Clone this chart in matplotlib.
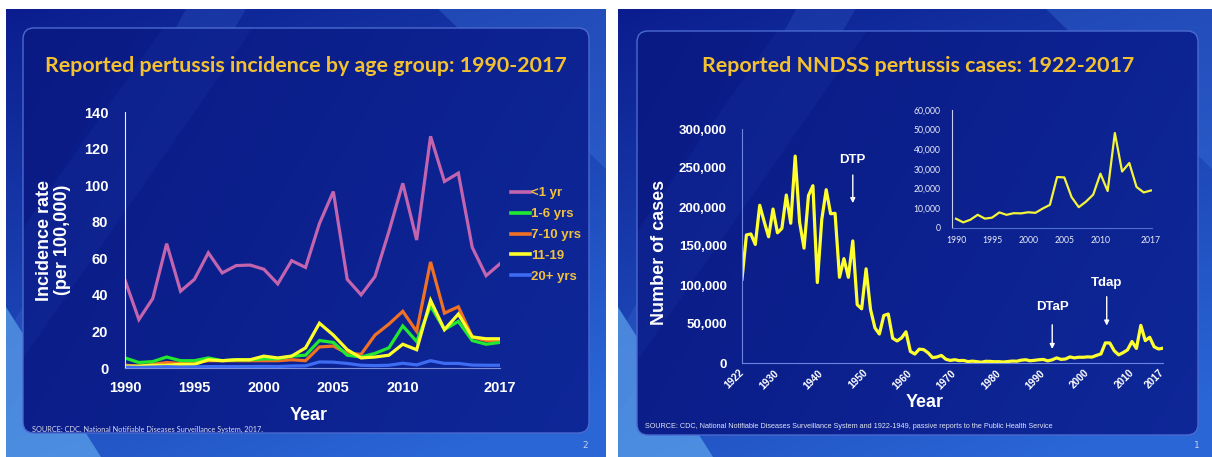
import numpy as np
import matplotlib.pyplot as plt
from matplotlib.patches import FancyBboxPatch, Polygon
from matplotlib.lines import Line2D

# ---- data: incidence by age group (per 100,000), 1990-2017 ----
years_age = list(range(1990, 2018))
inc_lt1 = [48, 26.5, 38, 68, 42, 48.5, 63, 52, 56, 56.3, 54, 46, 58.7, 55,
           79, 96.5, 48.5, 40, 50, 74.6, 101, 70, 126.7, 102, 106.6, 66, 50.5, 57]
inc_1_6 = [5.5, 3, 3.5, 6, 4, 4, 5.5, 4, 4.5, 4.5, 5, 5, 6.5, 7,
           15, 14, 7, 6, 8, 11, 23, 14.5, 34, 21, 25.5, 15, 13, 14]
inc_7_10 = [1.5, 1, 2, 3, 2.5, 3, 4, 4, 4, 4, 4, 4, 4.5, 4,
            11.5, 12, 8, 7.5, 18, 24, 31, 20, 58, 30, 33.5, 17, 15, 15]
inc_11_19 = [1, 1, 1.5, 1.5, 2, 2, 4.5, 4, 4.5, 4.5, 6.5, 5.5, 6.5, 11,
             24.5, 18, 10, 5.5, 6, 7, 13, 10, 37, 21, 29.5, 17, 16, 16]
inc_20plus = [0.5, 0.3, 0.5, 0.7, 0.5, 0.6, 0.8, 0.8, 0.8, 0.8, 0.9, 0.8, 1.1, 1.2,
              3.3, 3.2, 2.5, 1.5, 1.3, 1.5, 2.6, 1.7, 4, 2.5, 2.5, 1.6, 1.5, 1.5]
age_labels = ['<1 yr', '1-6 yrs', '7-10 yrs', '11-19', '20+ yrs']
age_colors = ['#c264ae', '#22e830', '#f07024', '#ffff2a', '#3d6cf2']
age_ticks = [1990, 1995, 2000, 2005, 2010, 2017]

# ---- data: reported cases 1922-2017 ----
years_all = list(range(1922, 2018))
cases_all = [107473, 164191, 165418, 152003, 202210, 181411, 161799, 197371, 166914, 172559,
             215343, 179135, 265269, 180518, 147237, 214652, 227319, 103188, 183866, 222202,
             191383, 191890, 109873, 133792, 109860, 156517, 74715, 69479, 120718, 68687,
             45030, 37129, 60886, 62786, 31732, 28295, 32148, 40005, 14809, 11468,
             17749, 17135, 13005, 6799, 7717, 9718, 4810, 3285, 4249, 3036,
             3287, 1759, 2402, 1738, 1010, 2177, 2063, 1623, 1730, 1248,
             1895, 2463, 2276, 3589, 4195, 2823, 3450, 4157, 4570, 2719,
             4083, 6586, 4617, 5137, 7796, 6564, 7405, 7298, 7867, 7580,
             9771, 11647, 25827, 25616, 15632, 10454, 13278, 16858, 27550, 18719,
             48277, 28639, 32971, 20762, 17972, 18975]
main_ticks = [1922, 1930, 1940, 1950, 1960, 1970, 1980, 1990, 2000, 2010, 2017]
inset_ticks = [1990, 1995, 2000, 2005, 2010, 2017]
vaccines = ['DTP', 'DTaP', 'Tdap']
vaccine_years = [1947, 1992, 2004.3]

W, H = 1212, 457
GOLD = '#f3c130'

fig = plt.figure(figsize=(W / 100, H / 100), dpi=100)
fig.patch.set_facecolor('white')

# background axes in pixel coordinates
bg = fig.add_axes([0, 0, 1, 1])
bg.axis('off')


def gradient(c0, c1, wx, wy, n=200):
    X, Y = np.meshgrid(np.linspace(0, 1, n), np.linspace(0, 1, n))
    t = np.clip(wx * X + wy * Y, 0, 1)[..., None]
    c0 = np.array(plt.matplotlib.colors.to_rgb(c0))
    c1 = np.array(plt.matplotlib.colors.to_rgb(c1))
    return c0 + (c1 - c0) * t


def slide(x0, x1, y0, y1, panel):
    bg.imshow(gradient('#0b1d8e', '#2a66d6', 0.35, 0.75), extent=(x0, x1, y1, y0),
              origin='upper', aspect='auto', zorder=0)
    w = x1 - x0
    # light streaks
    bg.add_patch(Polygon([(x0, y1 - 150), (x0, y1), (x0 + 95, y1)], closed=True,
                         fc='#5aa0ea', alpha=0.75, lw=0, zorder=1))
    bg.add_patch(Polygon([(x0 + 0.30 * w, y0), (x0 + 0.40 * w, y0), (x0, y1 - 40), (x0, y1 - 120)],
                         closed=True, fc='#4a80e0', alpha=0.18, lw=0, zorder=1))
    bg.add_patch(Polygon([(x0 + 0.72 * w, y0), (x1, y0), (x1, y0 + 160)], closed=True,
                         fc='#3c78e0', alpha=0.35, lw=0, zorder=1))
    px0, py0, px1, py1 = panel
    box = FancyBboxPatch((px0, py0), px1 - px0, py1 - py0,
                         boxstyle='round,pad=0,rounding_size=11',
                         fc='none', ec='#4a6ad0', lw=1.0, zorder=3)
    bg.add_patch(box)
    im = bg.imshow(gradient('#0a1a84', '#0f2a9c', 0.6, 0.25), extent=(px0, px1, py1, py0),
                   origin='upper', aspect='auto', zorder=2)
    im.set_clip_path(box)
    st = Polygon([(px0 + 140, py0), (px0 + 230, py0), (px0, py0 + 330), (px0, py0 + 200)],
                 closed=True, fc='#3060d0', alpha=0.10, lw=0, zorder=2)
    bg.add_patch(st)
    st.set_clip_path(box)


slide(6, 606, 9, 457, (23, 28, 589, 433))
slide(618, 1212, 9, 457, (637, 31, 1198, 435))
bg.set_xlim(0, W)
bg.set_ylim(H, 0)

# titles, sources, page numbers
title_font = dict(family='Lato', weight='bold', color=GOLD, size=15.4, ha='center', va='center')
bg.text(306, 66, 'Reported pertussis incidence by age group: 1990-2017', **title_font)
bg.text(918, 66, 'Reported NNDSS pertussis cases: 1922-2017', **title_font)
bg.text(32, 429, 'SOURCE: CDC. National Notifiable Diseases Surveillance System, 2017.',
        color='#d8dcf0', size=5.3, family='Lato', va='center')
bg.text(645, 426, 'SOURCE: CDC, National Notifiable Diseases Surveillance System and 1922-1949, '
        'passive reports to the Public Health Service', color='#e0e4f4', size=5.2,
        family='Liberation Sans', va='center')
bg.text(585, 446, '2', color='#c8d0ea', size=6.5, ha='center', va='center')
bg.text(1197, 446, '1', color='#c8d0ea', size=6.5, ha='center', va='center')


def px_axes(left, right, top, bottom):
    return fig.add_axes([left / W, 1 - bottom / H, (right - left) / W, (bottom - top) / H])


def style(ax, spine_col, lw=0.8):
    ax.set_facecolor('none')
    for s in ['top', 'right']:
        ax.spines[s].set_visible(False)
    for s in ['left', 'bottom']:
        ax.spines[s].set_color(spine_col)
        ax.spines[s].set_linewidth(lw)
    ax.tick_params(length=0)


bold = dict(family='Liberation Sans', weight='bold', color='white')

# ---- left chart ----
ax1 = px_axes(125, 500, 112, 368)
style(ax1, '#8090d8')
ax1.spines['left'].set_color('#e8ecff')
series = [inc_lt1, inc_1_6, inc_7_10, inc_11_19, inc_20plus]
order = [0, 2, 1, 3, 4]
for i in order:
    ax1.plot(years_age, series[i], color=age_colors[i], lw=2.3, solid_joinstyle='miter',
             label=age_labels[i])
ax1.set_xlim(1990, 2017)
ax1.set_ylim(0, 140)
ax1.set_yticks(range(0, 141, 20))
ax1.set_xticks(age_ticks)
ax1.tick_params(axis='y', pad=12)
ax1.tick_params(axis='x', pad=9)
for lab in ax1.get_xticklabels() + ax1.get_yticklabels():
    lab.set(**bold, size=10.5)
ax1.text(-0.19, 0.5, 'Incidence rate\n(per 100,000)', transform=ax1.transAxes, rotation=90,
         ha='center', va='center', size=13, linespacing=1.05, **bold)
ax1.text(0.49, -0.184, 'Year', transform=ax1.transAxes, ha='center', va='center', size=13, **bold)
handles = [Line2D([], [], color=c, lw=2.6) for c in age_colors]
leg = ax1.legend(handles, age_labels, loc='upper left', bbox_to_anchor=(511 / W, 1 - 187 / H),
                 bbox_transform=fig.transFigure, frameon=False, handlelength=1.45,
                 handletextpad=0.1, labelspacing=0.66, borderpad=0, borderaxespad=0,
                 prop=dict(family='Liberation Sans', weight='bold', size=9.5))
for t in leg.get_texts():
    t.set_color('#f0c040')

# ---- right main chart ----
ax2 = px_axes(742, 1163, 129, 363)
style(ax2, '#6a86e0')
ax2.plot(years_all, cases_all, color='#ffff30', lw=2.3, solid_joinstyle='round')
ax2.set_xlim(1922, 2017)
ax2.set_ylim(0, 300000)
ax2.set_yticks(range(0, 300001, 50000))
ax2.set_yticklabels([f'{v:,}' for v in range(0, 300001, 50000)])
ax2.set_xticks(main_ticks)
ax2.tick_params(axis='y', pad=11)
ax2.tick_params(axis='x', pad=6)
for lab in ax2.get_yticklabels():
    lab.set(**bold, size=9.5)
for lab in ax2.get_xticklabels():
    lab.set(**bold, size=7.4, rotation=45, ha='right', va='center', rotation_mode='anchor')
ax2.text(-0.197, 0.472, 'Number of cases', transform=ax2.transAxes, rotation=90,
         ha='center', va='center', size=13, **bold)
ax2.text(0.434, -0.17, 'Year', transform=ax2.transAxes, ha='center', va='center', size=13, **bold)

arrow_y = [(260000, 241000, 205000), (72000, 49000, 18000), (102000, 85000, 48000)]
for name, yr, (ty, a0, a1) in zip(vaccines, vaccine_years, arrow_y):
    ax2.annotate('', xy=(yr, a1), xytext=(yr, a0),
                 arrowprops=dict(arrowstyle='-|>', color='white', lw=1.0,
                                 mutation_scale=7, shrinkA=0, shrinkB=0))
    ax2.text(yr, ty, name, ha='center', va='center', size=9.5, **bold)

# ---- inset chart ----
ax3 = px_axes(951.7, 1152.4, 110, 227.7)
style(ax3, '#c8d0f0', lw=0.8)
ax3.spines['bottom'].set_color('#5070d0')
ax3.plot(years_all[68:], cases_all[68:], color='#f4f43a', lw=1.6)
ax3.set_xlim(1989.4, 2017.2)
ax3.set_ylim(0, 60000)
ax3.set_yticks(range(0, 60001, 10000))
ax3.set_yticklabels([f'{v:,}' for v in range(0, 60001, 10000)])
ax3.set_xticks(inset_ticks)
ax3.tick_params(axis='y', pad=8)
ax3.tick_params(axis='x', pad=6)
for lab in ax3.get_xticklabels() + ax3.get_yticklabels():
    lab.set(family='Lato', color='#e8ecf8', size=6.2)

fig.savefig('out.png', dpi=100, facecolor='white')
